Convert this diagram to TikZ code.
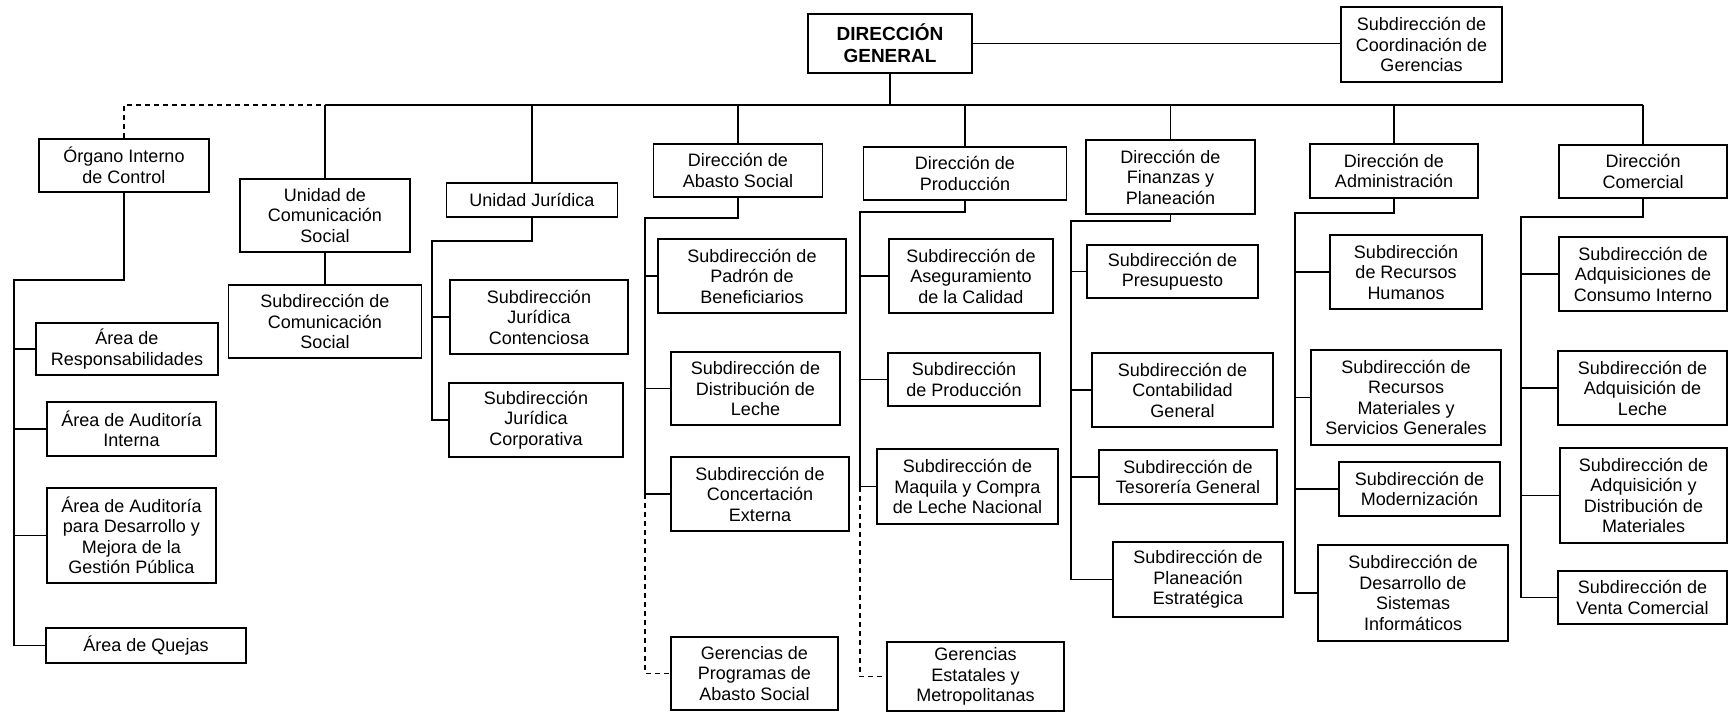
\documentclass[tikz,border=0pt]{standalone}
\usepackage{fontspec}
\setmainfont{Liberation Sans}

\begin{document}
\begin{tikzpicture}[x=1pt, y=-1pt,
    caja/.style={draw, line width=1.9pt, align=center, inner sep=0pt,
        font=\fontsize{18}{20.5}\selectfont},
    linea/.style={line width=1.9pt},
    guion/.style={line width=1.9pt, dash pattern=on 5pt off 4pt}]
    \useasboundingbox (0,0) rectangle (1729,712);

    \node[caja, minimum width=164pt, minimum height=59pt, font=\fontsize{19}{22}\selectfont\bfseries] (dg) at (890,43.5) {DIRECCIÓN\\GENERAL};
    \node[caja, minimum width=161pt, minimum height=75pt] (scg) at (1421.5,44.5) {Subdirección de\\Coordinación de\\Gerencias};

    \node[caja, minimum width=170pt, minimum height=53pt] (oic) at (124,165.5) {Órgano Interno\\de Control};
    \node[caja, minimum width=182pt, minimum height=52pt] (aresp) at (127,349) {Área de\\Responsabilidades};
    \node[caja, minimum width=169pt, minimum height=54pt] (aai) at (131.5,429) {Área de Auditoría\\Interna};
    \node[caja, minimum width=169pt, minimum height=95pt] (aad) at (131.5,535.5) {Área de Auditoría\\para Desarrollo y\\Mejora de la\\Gestión Pública};
    \node[caja, minimum width=200pt, minimum height=35pt] (aq) at (146,645.5) {Área de Quejas};

    \node[caja, minimum width=170pt, minimum height=73pt] (ucs) at (325,215.5) {Unidad de\\Comunicación\\Social};
    \node[caja, minimum width=193pt, minimum height=73pt] (scs) at (325,321.5) {Subdirección de\\Comunicación\\Social};

    \node[caja, minimum width=171pt, minimum height=34pt] (uj) at (532,200) {Unidad Jurídica};
    \node[caja, minimum width=178pt, minimum height=74pt] (sjc) at (539,317) {Subdirección\\Jurídica\\Contenciosa};
    \node[caja, minimum width=174pt, minimum height=74pt] (sjcorp) at (536,420) {Subdirección\\Jurídica\\Corporativa};

    \node[caja, minimum width=169pt, minimum height=53pt] (das) at (738,170.5) {Dirección de\\Abasto Social};
    \node[caja, minimum width=188pt, minimum height=74pt] (spb) at (752,276) {Subdirección de\\Padrón de\\Beneficiarios};
    \node[caja, minimum width=169pt, minimum height=73pt] (sdl) at (755.5,388.5) {Subdirección de\\Distribución de\\Leche};
    \node[caja, minimum width=178pt, minimum height=74pt] (sce) at (760,494) {Subdirección de\\Concertación\\Externa};
    \node[caja, minimum width=167pt, minimum height=73pt] (gpas) at (754.5,673.5) {Gerencias de\\Programas de\\Abasto Social};

    \node[caja, minimum width=203pt, minimum height=53pt] (dp) at (965,173.5) {Dirección de\\Producción};
    \node[caja, minimum width=164pt, minimum height=74pt] (sac) at (971,276) {Subdirección de\\Aseguramiento\\de la Calidad};
    \node[caja, minimum width=152pt, minimum height=53pt] (sprod) at (964,379.5) {Subdirección\\de Producción};
    \node[caja, minimum width=181pt, minimum height=75pt] (smc) at (967.5,486.5) {Subdirección de\\Maquila y Compra\\de Leche Nacional};
    \node[caja, minimum width=177pt, minimum height=69pt] (gem) at (975.5,676.5) {Gerencias\\Estatales y\\Metropolitanas};

    \node[caja, minimum width=169pt, minimum height=74pt] (dfp) at (1170.5,177) {Dirección de\\Finanzas y\\Planeación};
    \node[caja, minimum width=171pt, minimum height=53pt] (spres) at (1172.5,271.5) {Subdirección de\\Presupuesto};
    \node[caja, minimum width=181pt, minimum height=74pt] (scont) at (1182.5,390) {Subdirección de\\Contabilidad\\General};
    \node[caja, minimum width=178pt, minimum height=54pt] (stes) at (1188,477) {Subdirección de\\Tesorería General};
    \node[caja, minimum width=170pt, minimum height=75pt] (splan) at (1198,579.5) {Subdirección de\\Planeación\\Estratégica};

    \node[caja, minimum width=168pt, minimum height=54pt] (da) at (1394,171) {Dirección de\\Administración};
    \node[caja, minimum width=152pt, minimum height=74pt] (srh) at (1406,272) {Subdirección\\de Recursos\\Humanos};
    \node[caja, minimum width=190pt, minimum height=95pt] (srm) at (1406,397.5) {Subdirección de\\Recursos\\Materiales y\\Servicios Generales};
    \node[caja, minimum width=161pt, minimum height=54pt] (smod) at (1419.5,489) {Subdirección de\\Modernización};
    \node[caja, minimum width=190pt, minimum height=96pt] (sdsi) at (1413,593) {Subdirección de\\Desarrollo de\\Sistemas\\Informáticos};

    \node[caja, minimum width=168pt, minimum height=53pt] (dc) at (1643,171.5) {Dirección\\Comercial};
    \node[caja, minimum width=168pt, minimum height=74pt] (saci) at (1643,274) {Subdirección de\\Adquisiciones de\\Consumo Interno};
    \node[caja, minimum width=169pt, minimum height=74pt] (sal) at (1642.5,388) {Subdirección de\\Adquisición de\\Leche};
    \node[caja, minimum width=167pt, minimum height=95pt] (sadm) at (1643.5,495.5) {Subdirección de\\Adquisición y\\Distribución de\\Materiales};
    \node[caja, minimum width=169pt, minimum height=53pt] (svc) at (1642.5,597.5) {Subdirección de\\Venta Comercial};

    \coordinate (bus) at (0,105);
    \coordinate (oic-t) at (14,280);
    \coordinate (uj-t) at (432,241);
    \coordinate (das-t) at (645,218);
    \coordinate (dp-t) at (860,212);
    \coordinate (dfp-t) at (1071,221);
    \coordinate (da-t) at (1295,213);
    \coordinate (dc-t) at (1521,217);

    \draw[line width=1.2pt] (dg.east) -- (dg.east -| scg.west);
    \draw[linea] (dg.south) -- (dg.south |- bus);
    \draw[linea] (ucs.north |- bus) -- (dc.north |- bus);
    \draw[guion] (oic.north) |- (ucs.north |- bus);
    \foreach \n in {ucs, uj, das, dp, dfp, da, dc}
        \draw[linea] (\n.north) -- (\n.north |- bus);

    \draw[linea] (oic.south) |- (oic-t) -- (oic-t |- aq.west) -- (aq.west);
    \foreach \n in {aresp, aai, aad}
        \draw[linea] (oic-t |- \n.west) -- (\n.west);

    \draw[linea] (ucs.south) -- (ucs.south |- scs.north);

    \draw[linea] (uj.south) |- (uj-t) -- (uj-t |- sjcorp.west) -- (sjcorp.west);
    \draw[linea] (uj-t |- sjc.west) -- (sjc.west);

    \draw[linea] (das.south) |- (das-t) -- (das-t |- sce.west) -- (sce.west);
    \foreach \n in {spb, sdl}
        \draw[linea] (das-t |- \n.west) -- (\n.west);
    \draw[guion] (das-t |- sce.west) |- (gpas.west);

    \draw[linea] (dp.south) |- (dp-t) -- (dp-t |- smc.west) -- (smc.west);
    \foreach \n in {sac, sprod}
        \draw[linea] (dp-t |- \n.west) -- (\n.west);
    \draw[guion] (dp-t |- smc.west) |- (gem.west);

    \draw[linea] (dfp.south) |- (dfp-t) -- (dfp-t |- splan.west) -- (splan.west);
    \foreach \n in {spres, scont, stes}
        \draw[linea] (dfp-t |- \n.west) -- (\n.west);

    \draw[linea] (da.south) |- (da-t) -- (da-t |- sdsi.west) -- (sdsi.west);
    \foreach \n in {srh, srm, smod}
        \draw[linea] (da-t |- \n.west) -- (\n.west);

    \draw[linea] (dc.south) |- (dc-t) -- (dc-t |- svc.west) -- (svc.west);
    \foreach \n in {saci, sal, sadm}
        \draw[linea] (dc-t |- \n.west) -- (\n.west);
\end{tikzpicture}
\end{document}
